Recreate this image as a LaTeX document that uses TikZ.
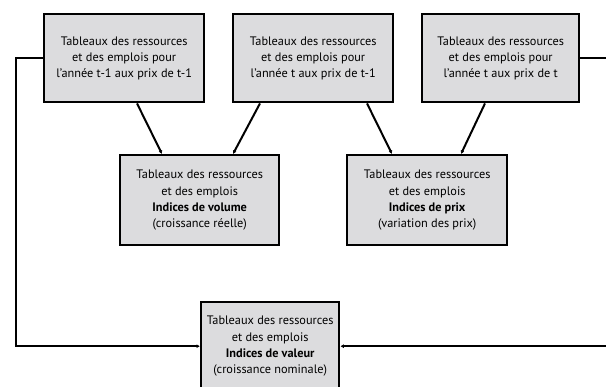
\documentclass[tikz,border=0pt]{standalone}
\usepackage{fontspec}
\setmainfont{PT Sans}
\usetikzlibrary{arrows.meta}
\begin{document}
\begin{tikzpicture}[x=1pt,y=-1pt,
  tabbox/.style={draw=black, line width=2.4pt, fill=boxgray, anchor=north west,
    minimum width=#1, inner sep=0pt, align=center,
    font=\fontsize{12.3}{16.2}\selectfont},
  tabbox/.default=160pt,
  link/.style={line width=2pt, -{Latex[length=3.5pt,width=4pt]}}]
\definecolor{boxgray}{RGB}{220,220,222}
\useasboundingbox (0,0) rectangle (606,387);
\clip (0,0) rectangle (606,387);

% source tables (top row)
\node[tabbox, minimum height=88pt] (b1) at (43,13)
  {Tableaux des ressources\\et des emplois pour\\l’année t-1 aux prix de t-1};
\node[tabbox, minimum height=88pt] (b2) at (232,13)
  {Tableaux des ressources\\et des emplois pour\\l’année t aux prix de t-1};
\node[tabbox, minimum height=88pt, minimum width=157pt] (b3) at (421,13)
  {Tableaux des ressources\\et des emplois pour\\l’année t aux prix de t};

% derived indices (middle row)
\node[tabbox, minimum height=90pt, minimum width=159pt] (b4) at (119,154)
  {Tableaux des ressources\\et des emplois\\\textbf{Indices de volume}\\(croissance réelle)};
\node[tabbox, minimum height=90pt] (b5) at (346,154)
  {Tableaux des ressources\\et des emplois\\\textbf{Indices de prix}\\(variation des prix)};

% value indices (bottom)
\node[tabbox, minimum height=88pt, minimum width=138pt] (b6) at (200,301)
  {Tableaux des ressources\\et des emplois\\\textbf{Indices de valeur}\\(croissance nominale)};

% connectors
\draw[link] ([xshift=94pt]b1.south west) -- ([xshift=43pt]b4.north west);
\draw[link] ([xshift=28pt]b2.south west) -- ([xshift=114pt]b4.north west);
\draw[link] ([xshift=135pt]b2.south west) -- ([xshift=46pt]b5.north west);
\draw[link] ([xshift=64pt]b3.south west) -- ([xshift=115pt]b5.north west);
\draw[link] (b1.west) -- ++(-27,0) |- (b6.west);
\draw[link] (b3.east) -- ++(27,0) |- (b6.east);
\end{tikzpicture}
\end{document}
